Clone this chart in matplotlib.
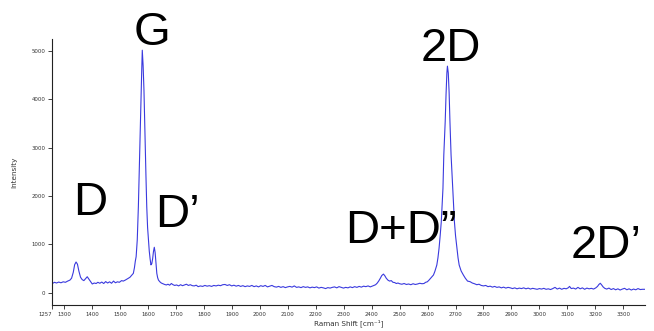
import matplotlib
matplotlib.use("Agg")
import matplotlib.pyplot as plt

# Raman spectrum of graphene, read point by point
shift = [
    1257, 1265, 1272, 1280, 1288, 1296, 1304, 1312, 1320, 1326, 1332, 1337,
    1342, 1347, 1352, 1358, 1364, 1370, 1376, 1382, 1388, 1394, 1400, 1407,
    1414, 1420, 1427, 1434, 1441, 1448, 1455, 1462, 1469, 1476, 1483, 1490,
    1497, 1505, 1511, 1518, 1524, 1529, 1535, 1541, 1547, 1551, 1554, 1557,
    1561, 1565, 1568, 1571, 1574, 1577, 1579, 1582, 1585, 1589, 1592, 1595,
    1598, 1601, 1604, 1607, 1610, 1613, 1616, 1619, 1622, 1625, 1628, 1631,
    1634, 1637, 1642, 1647, 1653, 1659, 1665, 1671, 1677, 1683, 1689, 1695,
    1702, 1709, 1716, 1723, 1730, 1737, 1744, 1751, 1758, 1765, 1772, 1779,
    1787, 1795, 1803, 1811, 1819, 1827, 1835, 1843, 1851, 1859, 1867, 1875,
    1883, 1891, 1899, 1907, 1915, 1923, 1931, 1939, 1947, 1955, 1963, 1971,
    1979, 1987, 1995, 2003, 2011, 2019, 2027, 2035, 2043, 2051, 2059, 2067,
    2075, 2083, 2091, 2099, 2107, 2115, 2123, 2131, 2139, 2147, 2155, 2163,
    2171, 2179, 2187, 2195, 2203, 2211, 2219, 2227, 2235, 2243, 2251, 2259,
    2267, 2275, 2283, 2291, 2299, 2307, 2315, 2323, 2331, 2339, 2347, 2355,
    2363, 2371, 2379, 2387, 2395, 2402, 2408, 2414, 2420, 2426, 2431, 2436,
    2442, 2447, 2452, 2458, 2464, 2470, 2476, 2482, 2488, 2494, 2500, 2508,
    2516, 2524, 2532, 2540, 2548, 2556, 2564, 2572, 2580, 2587, 2593, 2599,
    2605, 2611, 2616, 2621, 2626, 2630, 2633, 2637, 2641, 2645, 2649, 2652,
    2655, 2658, 2663, 2666, 2669, 2671, 2674, 2677, 2680, 2684, 2687, 2690,
    2693, 2696, 2700, 2705, 2709, 2713, 2720, 2728, 2735, 2743, 2752, 2760,
    2768, 2776, 2784, 2792, 2800, 2808, 2816, 2824, 2832, 2840, 2848, 2856,
    2864, 2872, 2880, 2888, 2896, 2904, 2912, 2920, 2928, 2936, 2944, 2952,
    2960, 2968, 2976, 2984, 2992, 3000, 3008, 3016, 3024, 3032, 3040, 3048,
    3056, 3064, 3072, 3080, 3088, 3096, 3103, 3108, 3114, 3122, 3130, 3138,
    3146, 3154, 3162, 3170, 3178, 3186, 3194, 3202, 3208, 3213, 3218, 3223,
    3228, 3234, 3241, 3249, 3257, 3265, 3273, 3281, 3289, 3297, 3305, 3313,
    3321, 3329, 3337, 3345, 3353, 3361, 3369, 3378,
]
intensity = [
    190, 215, 200, 220, 205, 225, 215, 240, 260, 300, 420, 580,
    635, 590, 450, 320, 270, 250, 290, 330, 280, 230, 180, 200,
    190, 215, 195, 220, 190, 230, 200, 225, 195, 240, 205, 225,
    215, 250, 240, 260, 280, 298, 320, 360, 400, 520, 650, 745,
    1090, 1780, 2500, 3160, 3900, 4600, 5020, 4700, 4196, 3160, 2450, 1780,
    1350, 1090, 860, 700, 575, 600, 700, 850, 940, 830, 600, 400,
    310, 260, 225, 200, 185, 170, 160, 175, 155, 190, 165, 150,
    160, 140, 165, 145, 160, 175, 150, 165, 145, 140, 155, 125,
    140, 130, 150, 135, 145, 130, 150, 140, 155, 145, 165, 170,
    150, 165, 140, 155, 135, 150, 130, 145, 125, 140, 130, 150,
    125, 140, 120, 145, 130, 150, 120, 135, 150, 125, 115, 130,
    110, 125, 105, 120, 130, 115, 140, 110, 120, 105, 125, 110,
    120, 100, 115, 105, 120, 95, 110, 100, 85, 105, 95, 110,
    120, 100, 125, 110, 95, 110, 100, 120, 105, 125, 110, 130,
    115, 135, 125, 140, 120, 135, 150, 165, 200, 250, 300, 355,
    385, 350, 300, 260, 240, 250, 215, 210, 190, 200, 185, 175,
    190, 170, 180, 165, 185, 170, 180, 195, 185, 190, 215, 225,
    260, 300, 330, 366, 440, 520, 573, 720, 919, 1180, 1470, 1800,
    2161, 2851, 3540, 4100, 4550, 4690, 4550, 4150, 3540, 2851, 2500, 2161,
    1800, 1470, 1180, 919, 720, 573, 450, 366, 300, 240, 228, 200,
    185, 165, 175, 150, 140, 150, 125, 135, 115, 130, 110, 120,
    100, 115, 95, 110, 100, 85, 100, 80, 95, 85, 100, 80,
    95, 75, 90, 80, 70, 85, 75, 90, 70, 80, 65, 85,
    110, 75, 95, 70, 90, 80, 100, 130, 85, 95, 75, 110,
    80, 100, 70, 95, 80, 90, 75, 100, 130, 170, 195, 160,
    120, 90, 75, 95, 65, 85, 60, 80, 55, 75, 90, 60,
    80, 55, 75, 60, 85, 65, 70, 70,
]

x_ticks = [1257] + list(range(1300, 3301, 100))
y_ticks = [0, 1000, 2000, 3000, 4000, 5000]

peak_names = ["G", "2D", "D", "D\u2019", "D+D\u201d", "2D\u2019"]
# left edge / baseline of each peak name, in pixels from the top-left corner
peak_name_px = [(134, 45), (421, 61), (73, 215), (155, 227), (345, 243), (571, 258)]

W, H = 654, 331
fig = plt.figure(figsize=(W / 100, H / 100), dpi=100)
ax = fig.add_axes([52.3 / W, (H - 305) / H, (645 - 52.3) / W, (305 - 39) / H])

ax.plot(shift, intensity, color="#3a3ade", linewidth=0.8)

ax.set_xlim(1257, 3378)
ax.set_ylim(-255, 5252)
ax.set_xticks(x_ticks)
ax.set_xticklabels([str(t) for t in x_ticks])
ax.set_yticks(y_ticks)

for side in ["top", "right"]:
    ax.spines[side].set_visible(False)
for side in ["left", "bottom"]:
    ax.spines[side].set_linewidth(0.8)
    ax.spines[side].set_color("#222222")
ax.tick_params(axis="both", labelsize=3.9, length=3, width=0.6,
               colors="#222222", labelcolor="#333333", pad=2)
# first label sits left of the axis corner so it clears "1300"
ax.get_xticklabels()[0].set_horizontalalignment("right")

ax.set_xlabel("Raman Shift [cm\u207b\u00b9]", fontsize=5.2, color="#333333", labelpad=2)
ax.set_ylabel("Intensity", fontsize=5.2, color="#333333", labelpad=10)

for name, (px, py) in zip(peak_names, peak_name_px):
    fig.text(px / W, 1 - py / H, name, fontsize=34, family="Liberation Sans",
             ha="left", va="baseline", color="black")

fig.savefig("out.png", dpi=100)
